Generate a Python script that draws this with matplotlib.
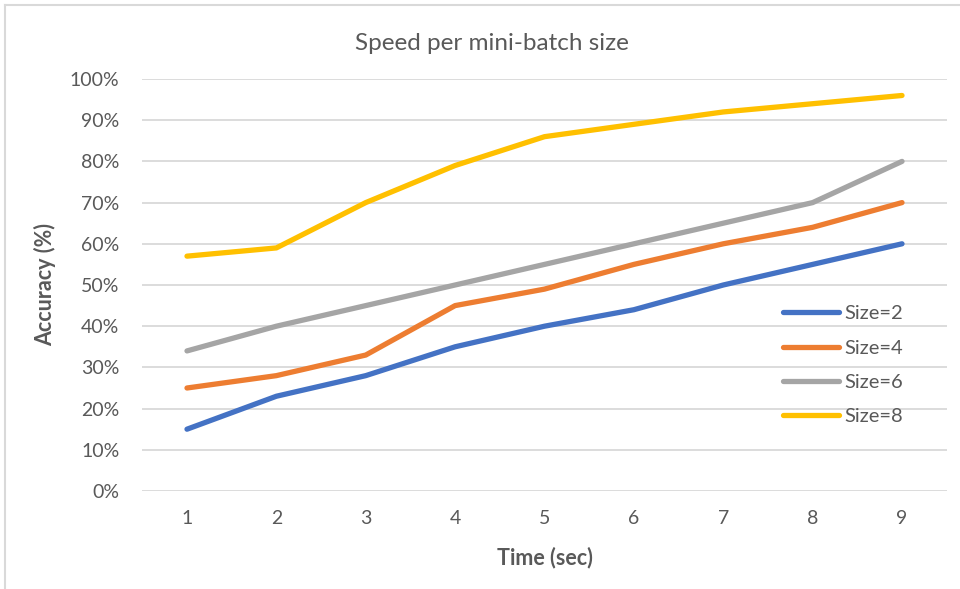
import matplotlib
matplotlib.use("Agg")
import matplotlib.pyplot as plt
from matplotlib.lines import Line2D

plt.rcParams['font.family'] = ['Lato', 'DejaVu Sans']

time_labels = ["1", "2", "3", "4", "5", "6", "7", "8", "9"]
size2 = [15, 23, 28, 35, 40, 44, 50, 55, 60]
size4 = [25, 28, 33, 45, 49, 55, 60, 64, 70]
size6 = [34, 40, 45, 50, 55, 60, 65, 70, 80]
size8 = [57, 59, 70, 79, 86, 89, 92, 94, 96]
series_names = ["Size=2", "Size=4", "Size=6", "Size=8"]
colors = ["#4472C4", "#ED7D31", "#A5A5A5", "#FFC000"]

W, H = 960, 589
fig = plt.figure(figsize=(W/100, H/100), dpi=100)
ax = fig.add_axes([142.3/W, 1-491/H, (946.7-142.3)/W, (491-79)/H])

x = list(range(1, len(time_labels)+1))
for vals, name, c in zip([size2, size4, size6, size8], series_names, colors):
    ax.plot(x, vals, color=c, lw=3.8, label=name, solid_capstyle='round', solid_joinstyle='round', zorder=3)

ax.set_xlim(0.5, 9.5)
ax.set_ylim(0, 100)
ax.set_yticks(range(0, 101, 10))
ax.set_yticklabels([f"{v}%" for v in range(0, 101, 10)])
ax.set_xticks(x)
ax.set_xticklabels(time_labels)
ax.grid(axis='y', color='#D9D9D9', lw=1.3, zorder=0)
ax.grid(axis='x', visible=False)
for s in ax.spines.values():
    s.set_visible(False)
ax.tick_params(length=0, labelsize=14, labelcolor='#595959')
ax.tick_params(axis='y', pad=16.5)
ax.tick_params(axis='x', pad=14)

ax.set_xlabel("Time (sec)", fontsize=15.5, fontweight='bold', color='#595959', labelpad=14)
ax.set_ylabel("Accuracy (%)", fontsize=15.5, fontweight='bold', color='#595959', labelpad=10)
fig.text(491.5/W, 1-43/H, "Speed per mini-batch size", ha='center', va='center', fontsize=17.5, color='#595959')

leg = ax.legend(loc='upper left', bbox_to_anchor=((775-142.3)/(946.7-142.3), (491-297)/(491-79)),
                frameon=False, fontsize=14.5, handlelength=2.8, labelspacing=0.86, handletextpad=0.25,
                borderaxespad=0)
for t in leg.get_texts():
    t.set_color('#595959')

# chart border
fig.add_artist(Line2D([5/W, 1], [1-5/H, 1-5/H], color='#D9D9D9', lw=1.5, transform=fig.transFigure))
fig.add_artist(Line2D([5/W, 5/W], [0, 1-5/H], color='#D9D9D9', lw=1.5, transform=fig.transFigure))

fig.savefig("out.png", dpi=100, facecolor='white')
